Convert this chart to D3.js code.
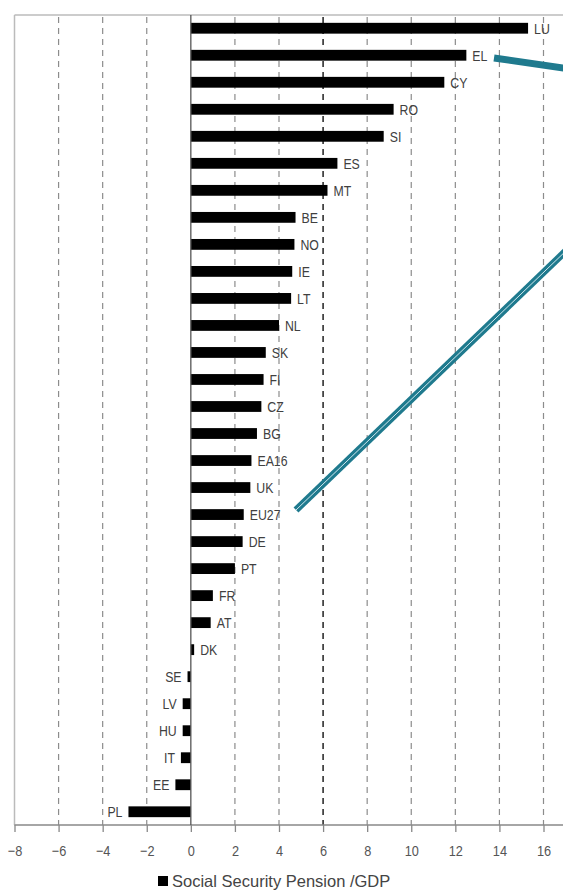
<!DOCTYPE html>
<html>
<head>
<meta charset="utf-8">
<script src="https://cdn.jsdelivr.net/npm/d3@7"></script>
<style>
  body { margin: 0; background: #fff; }
</style>
</head>
<body>
<svg class="vis1" width="563" height="890"></svg>
<script>
// country codes, top to bottom
var countries = ["LU", "EL", "CY", "RO", "SI", "ES", "MT", "BE", "NO", "IE",
    "LT", "NL", "SK", "FI", "CZ", "BG", "EA16", "UK", "EU27", "DE",
    "PT", "FR", "AT", "DK", "SE", "LV", "HU", "IT", "EE", "PL"];

// change in social security pension / GDP (pp)
var pensionGdp = [15.3, 12.5, 11.5, 9.2, 8.75, 6.65, 6.2, 4.75, 4.7, 4.6,
    4.55, 4.0, 3.4, 3.3, 3.2, 3.0, 2.75, 2.7, 2.4, 2.35,
    2.0, 1.0, 0.9, 0.15, -0.15, -0.37, -0.37, -0.45, -0.7, -2.83];

var xTicks = [-8, -6, -4, -2, 0, 2, 4, 6, 8, 10, 12, 14, 16];
var legendLabel = "Social Security Pension /GDP";

var svg1 = d3.select(".vis1");

var top0 = 15, bottom0 = 825, left0 = 14.5, right0 = 563;
var narrow = "'Liberation Sans', Arial, sans-serif";

var x = d3.scaleLinear()
    .domain([-8, 16])
    .range([14.5, 543.5]);

var y = d3.scaleBand()
    .domain(countries)
    .range([top0, bottom0])
    .paddingInner(0.6)
    .paddingOuter(0.29);

var data = countries.map(function (c, i) { return { name: c, value: pensionGdp[i] }; });

// frame
svg1.append("line")
    .attr("x1", left0).attr("x2", right0)
    .attr("y1", top0).attr("y2", top0)
    .attr("stroke", "#bbb").attr("stroke-width", 1.5);
svg1.append("line")
    .attr("x1", left0).attr("x2", left0)
    .attr("y1", top0).attr("y2", bottom0)
    .attr("stroke", "#bbb").attr("stroke-width", 1.5);

// dashed grid
svg1.selectAll(".grid")
    .data(xTicks.filter(function (t) { return t !== -8 && t !== 0; }))
    .enter().append("line")
    .attr("class", "grid")
    .attr("x1", function (d) { return x(d); })
    .attr("x2", function (d) { return x(d); })
    .attr("y1", top0 + 2)
    .attr("y2", bottom0)
    .attr("stroke", function (d) { return d === 6 ? "#111" : "#8c8c8c"; })
    .attr("stroke-width", function (d) { return d === 6 ? 1.4 : 1.2; })
    .attr("stroke-dasharray", "6,5");

// x axis
var xAxis = d3.axisBottom(x)
    .tickValues(xTicks)
    .tickSize(7)
    .tickPadding(13)
    .tickFormat(d3.format("d"));

var gx = svg1.append("g")
    .attr("transform", "translate(0," + bottom0 + ")")
    .call(xAxis);
gx.select(".domain").remove();
gx.append("line")
    .attr("x1", left0).attr("x2", right0)
    .attr("stroke", "#888").attr("stroke-width", 1.5);
gx.selectAll(".tick line").attr("stroke", "#888").attr("stroke-width", 1.3);
gx.selectAll(".tick text")
    .attr("font-family", narrow)
    .attr("font-size", "15px")
    .attr("fill", "#555")
    .attr("transform", "scale(0.85,1)");

// bars
svg1.selectAll(".bar")
    .data(data)
    .enter().append("rect")
    .attr("class", "bar")
    .attr("x", function (d) { return x(Math.min(0, d.value)); })
    .attr("y", function (d) { return y(d.name); })
    .attr("width", function (d) { return Math.abs(x(d.value) - x(0)); })
    .attr("height", y.bandwidth())
    .attr("fill", "#000");

// zero line
svg1.append("line")
    .attr("x1", x(0)).attr("x2", x(0))
    .attr("y1", top0).attr("y2", bottom0)
    .attr("stroke", "#555").attr("stroke-width", 1.3);

// bar labels (condensed)
svg1.selectAll(".lbl")
    .data(data)
    .enter().append("text")
    .attr("class", "lbl")
    .attr("transform", function (d) {
        var lx = d.value >= 0 ? x(d.value) + 6 : x(d.value) - 6;
        return "translate(" + lx + "," + (y(d.name) + y.bandwidth() / 2) + ") scale(0.82,1)";
    })
    .attr("dy", "0.36em")
    .attr("text-anchor", function (d) { return d.value >= 0 ? "start" : "end"; })
    .attr("font-family", narrow)
    .attr("font-size", "15px")
    .attr("fill", "#404040")
    .text(function (d) { return d.name; });

// teal pointer lines
var pointers = [
    { x1: 494, y1: 58, x2: 570, y2: 69, inner: false },
    { x1: 296, y1: 510, x2: 570, y2: 247, inner: true }
];
pointers.forEach(function (p) {
    svg1.append("line")
        .attr("x1", p.x1).attr("y1", p.y1).attr("x2", p.x2).attr("y2", p.y2)
        .attr("stroke", "#1f7a8e").attr("stroke-width", 7);
    if (p.inner) {
        svg1.append("line")
            .attr("x1", p.x1).attr("y1", p.y1).attr("x2", p.x2).attr("y2", p.y2)
            .attr("stroke", "#cfe8ee").attr("stroke-width", 1);
    }
});

// legend
var legend = svg1.append("g")
    .attr("transform", "translate(158, 881)");
legend.append("rect")
    .attr("x", 0).attr("y", -5)
    .attr("width", 10).attr("height", 10)
    .attr("fill", "#000");
legend.append("text")
    .attr("x", 14).attr("y", 0)
    .attr("dy", "0.36em")
    .attr("font-family", narrow)
    .attr("font-size", "16.5px")
    .attr("fill", "#444")
    .text(legendLabel);
</script>
</body>
</html>
